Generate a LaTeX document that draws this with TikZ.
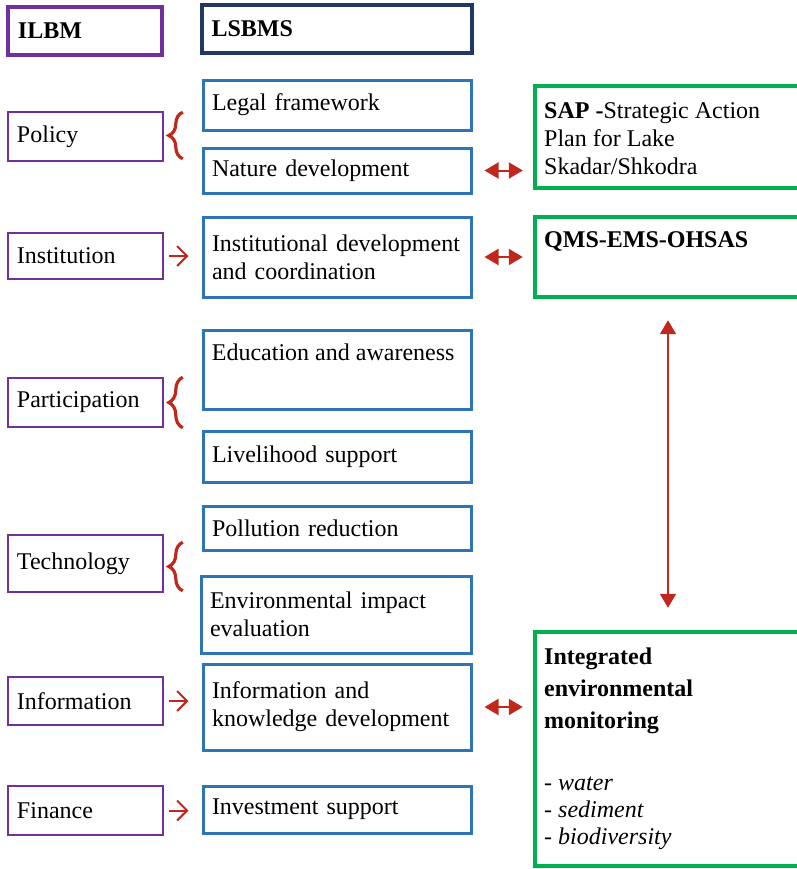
\documentclass[tikz,border=0pt]{standalone}
\usepackage{fontspec}
\setmainfont{Liberation Serif}
\usetikzlibrary{arrows.meta,decorations.pathreplacing,calc}
\definecolor{ILlila}  {RGB}{112, 48,160}
\definecolor{LSnavy}  {RGB}{ 31, 56,100}
\definecolor{LSazul}  {RGB}{ 46,117,182}
\definecolor{SAverde} {RGB}{  0,176, 80}
\definecolor{FLrojo}  {RGB}{192, 40, 30}
\begin{document}
\begin{tikzpicture}[x=0.5pt,y=-0.5pt, font=\fontsize{12}{14}\selectfont,
  cabeza/.style={line width=2pt, minimum height=24pt, inner xsep=5pt, align=left, font=\fontsize{12}{14}\selectfont\bfseries},
  pilar/.style={draw=ILlila, line width=0.8pt, text width=68.5pt, inner xsep=4.5pt, align=left},
  tarea/.style={draw=LSazul, line width=1.5pt, text width=125pt, inner xsep=4.5pt, align=left},
  marco/.style={draw=SAverde, line width=2.2pt, minimum width=133pt, inner sep=0pt},
  rotulo/.style={anchor=north west, inner sep=0pt, align=left},
  uno/.style={draw=FLrojo, line width=1pt, -{Straight Barb[length=5pt,width=10pt]}, shorten <=2.5pt, shorten >=6.5pt},
  dos/.style={draw=FLrojo, line width=1pt, {Triangle[length=7pt,width=8pt]}-{Triangle[length=7pt,width=8pt]}},
  llave/.style={draw=FLrojo, line width=1.6pt, decorate, decoration={brace,amplitude=7pt}}]
\useasboundingbox (0,0) rectangle (797,869);
\node[cabeza, draw=ILlila, text width=67pt] (ilbm) at (85,31) {ILBM};
\node[cabeza, draw=LSnavy, text width=125pt] (lsbms) at (336.5,29) {LSBMS};
\node[tarea, minimum height=25pt] (legal) at (337,105) {Legal framework};
\node[tarea, minimum height=22.5pt] (nature) at (337,170.5) {Nature development};
\node[tarea, minimum height=40pt] (instdev) at (337,257) {Institutional development\\and coordination};
\node[tarea, minimum height=39.5pt] (edu) at (337,369.5) {};
\node[rotulo] at ([xshift=5pt,yshift=-7.5pt]edu.north west) {Education and awareness};
\node[tarea, minimum height=25.5pt] (live) at (337,456.5) {Livelihood support};
\node[tarea, minimum height=22pt] (poll) at (337,528) {Pollution reduction};
\node[tarea, text width=126pt, minimum height=38.5pt] (eia) at (336,614.5) {Environmental impact\\evaluation};
\node[tarea, minimum height=43pt] (infodev) at (337,707) {Information and\\knowledge development};
\node[tarea, minimum height=23.5pt] (invest) at (337,809.5) {Investment support};
\node[pilar, minimum height=24.5pt] (policy) at (85.5,136.5) {Policy};
\node[pilar, minimum height=23pt] (inst) at (85.5,256) {Institution};
\node[pilar, minimum height=24.5pt] (part) at (85.5,402.5) {Participation};
\node[pilar, minimum height=28.5pt] (tech) at (85.5,563.5) {Technology};
\node[pilar, minimum height=24pt] (info) at (85.5,701) {Information};
\node[pilar, minimum height=24.5pt] (fin) at (85.5,810.5) {Finance};
\node[marco, minimum height=51pt] (sap) at (668,137) {};
\node[rotulo] at ([xshift=5.5pt,yshift=-9pt]sap.north west) {\textbf{SAP -}Strategic Action\\Plan for Lake\\Skadar/Shkodra};
\node[marco, minimum height=40pt] (qms) at (668,257) {};
\node[rotulo, font=\fontsize{12}{14}\selectfont\bfseries] at ([xshift=5.5pt,yshift=-8pt]qms.north west) {QMS-EMS-OHSAS};
\node[marco, minimum height=117pt] (iem) at (668,749) {};
\node[rotulo, font=\fontsize{12}{16}\selectfont\bfseries] (iemtit) at ([xshift=5.5pt,yshift=-9pt]iem.north west) {Integrated\\environmental\\monitoring};
\node[rotulo, font=\fontsize{12}{13.5}\selectfont] at ([xshift=5.5pt,yshift=-73.5pt]iem.north west) {- \textit{water}\\- \textit{sediment}\\- \textit{biodiversity}};
\draw[llave] ([xshift=9.5pt,yshift=1.5pt]policy.south east) -- ([xshift=9.5pt,yshift=-0.5pt]policy.north east);
\draw[llave] ([xshift=9.5pt]part.south east) -- ([xshift=9.5pt]part.north east);
\draw[llave] ([xshift=9.5pt,yshift=1pt]tech.south east) -- ([xshift=9.5pt,yshift=-4pt]tech.north east);
\draw[uno] (inst.east) -- (inst.east -| instdev.west);
\draw[uno] (info.east) -- (info.east -| infodev.west);
\draw[uno] (fin.east) -- (fin.east -| invest.west);
\draw[dos, shorten <=6pt, shorten >=5pt] (nature.east) -- (nature.east -| sap.west);
\draw[dos, shorten <=6pt, shorten >=5pt] (instdev.east) -- (qms.west);
\draw[dos, shorten <=6pt, shorten >=5pt] (infodev.east) -- (infodev.east -| iem.west);
\draw[dos, shorten <=10.5pt, shorten >=11pt] (qms.south) -- (iem.north);
\end{tikzpicture}
\end{document}
